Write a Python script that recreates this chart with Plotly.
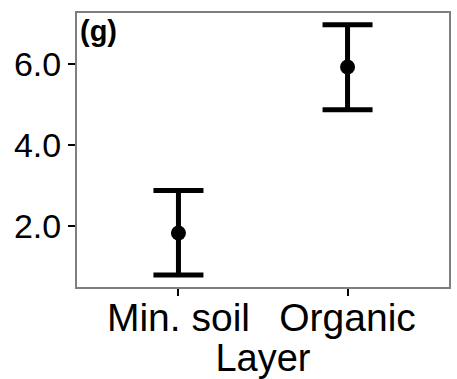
import plotly.graph_objects as go

# Layer means with their interval bounds
layers = ["Min. soil", "Organic"]
means = [1.82, 5.93]
lower = [0.78, 4.87]
upper = [2.87, 6.98]
y_ticks = [2.0, 4.0, 6.0]
y_tick_labels = ["2.0", "4.0", "6.0"]

err_plus = [u - m for u, m in zip(upper, means)]
err_minus = [m - l for m, l in zip(means, lower)]

fig = go.Figure(
    go.Scatter(
        x=layers,
        y=means,
        mode="markers",
        marker=dict(color="black", size=15),
        error_y=dict(
            type="data",
            symmetric=False,
            array=err_plus,
            arrayminus=err_minus,
            color="black",
            thickness=5,
            width=25,
        ),
        showlegend=False,
    )
)

axis_font = dict(family="Liberation Sans, Arial, sans-serif", color="black")

fig.update_layout(
    width=457,
    height=379,
    margin=dict(l=77, r=6, t=13, b=92),
    paper_bgcolor="white",
    plot_bgcolor="white",
    xaxis=dict(
        type="category",
        range=[-0.6, 1.6],
        showgrid=False,
        zeroline=False,
        showline=True,
        mirror=True,
        linecolor="#7f7f7f",
        linewidth=2,
        ticks="outside",
        ticklen=7,
        tickwidth=2,
        tickcolor="black",
        ticklabelstandoff=-12,
        tickfont=dict(size=39, **axis_font),
        title=dict(text="Layer", font=dict(size=38, **axis_font), standoff=0),
    ),
    yaxis=dict(
        range=[0.48, 7.27],
        tickvals=y_ticks,
        ticktext=y_tick_labels,
        showgrid=False,
        zeroline=False,
        showline=True,
        mirror=True,
        linecolor="#7f7f7f",
        linewidth=2,
        ticks="outside",
        ticklen=7,
        tickwidth=2,
        tickcolor="black",
        tickfont=dict(size=34, **axis_font),
    ),
    annotations=[
        dict(
            text="<b>(g)</b>",
            xref="paper",
            yref="paper",
            x=0,
            y=1,
            xanchor="left",
            yanchor="top",
            xshift=1,
            yshift=0,
            showarrow=False,
            font=dict(size=29, **axis_font),
        )
    ],
)

fig.write_html("out.html")
